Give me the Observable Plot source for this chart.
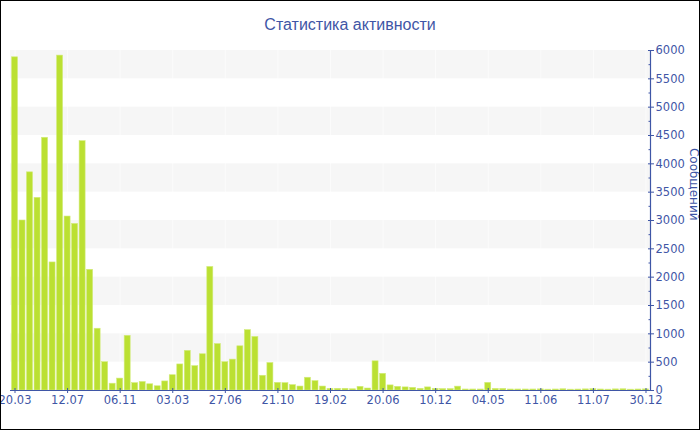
<!DOCTYPE html>
<html><head><meta charset="utf-8">
<script src="https://cdn.jsdelivr.net/npm/d3@7"></script>
<script src="https://cdn.jsdelivr.net/npm/@observablehq/plot@0.6"></script>
<style>
body{margin:0;background:#fff;}
#wrap{width:700px;height:430px;box-sizing:border-box;border:1px solid #000;overflow:hidden;background:#fff;}
#title{height:39px;box-sizing:border-box;padding-top:16px;line-height:16px;text-align:center;font-family:"Liberation Sans Narrow","Liberation Sans",sans-serif;font-size:16px;color:#3f56a6;}
svg{display:block;}
</style></head>
<body><div id="wrap"><div id="title">Статистика активности</div></div>
<script>
const tickLabels = ["20.03","12.07","06.11","03.03","27.06","21.10","19.02","20.06","10.12","04.05","11.06","11.07","30.12"];
const values = [5880,3000,3850,3400,4460,2260,5910,3070,2940,4400,
  2130,1090,500,120,210,965,130,150,110,75,
  160,270,460,700,430,640,2180,820,500,545,
  780,1065,945,260,485,135,130,95,70,225,
  165,70,30,30,30,22,65,35,515,295,
  90,65,55,47,30,55,30,25,25,68,
  18,18,18,135,28,28,18,18,18,18,
  20,15,18,22,15,17,20,24,18,15,20,22,15,18,20];
const yTicks = d3.range(0, 6001, 500);
const yMinor = d3.range(250, 6000, 500);
const bands = [500,1500,2500,3500,4500,5500];

const blue = "#3f56a6";
const idx = values.map((v,i)=>i);
const tickIdx = tickLabels.map((_,k)=>k*7);
const data = values.map((v,i)=>({i, v}));

const chart = Plot.plot({
  width: 698, height: 389,
  marginTop: 10, marginBottom: 39, marginLeft: 9, marginRight: 49,
  x: {type: "band", domain: idx, padding: 0.2, axis: null, label: null},
  y: {domain: [0, 6000], axis: null, label: null},
  style: {fontFamily: "DejaVu Sans", fontSize: "11.5px", color: blue, overflow: "visible"},
  marks: [
    Plot.rect(bands, {y1: d => d, y2: d => d + 500, fill: "#f6f6f6"}),
    Plot.ruleX(tickIdx, {x: d => d, stroke: "#fff", strokeOpacity: 0.6, strokeWidth: 1}),
    Plot.barY(data, {x: "i", y: "v", fill: "#bbe032", stroke: "#d3ec7c", strokeWidth: 0.6}),
    Plot.ruleY([0], {stroke: blue, strokeWidth: 1.2}),
    Plot.frame({anchor: "right", stroke: blue, strokeWidth: 1.2}),
    Plot.axisX({ticks: tickIdx, tickSize: 5, dy: -2, tickFormat: () => "", stroke: blue, label: null}),
    Plot.axisX({ticks: tickIdx, tickSize: 0, tickPadding: 5, tickFormat: i => tickLabels[i / 7], fill: blue, label: null}),
    Plot.axisY({anchor: "right", ticks: yTicks, tickSize: 6, dx: -3, tickFormat: () => "", stroke: blue, label: null}),
    Plot.axisY({anchor: "right", ticks: yMinor, tickSize: 2.5, dx: -2.5, tickFormat: () => "", stroke: blue, label: null}),
    Plot.axisY({anchor: "right", ticks: yTicks, tickSize: 0, tickPadding: 5, tickFormat: d => String(d), fill: blue, label: null}),
    Plot.text(["Сообщений"], {frameAnchor: "right", rotate: 90, dx: 43, fontSize: 12, fill: blue})
  ]
});
document.getElementById("wrap").appendChild(chart);
</script>
</body></html>
